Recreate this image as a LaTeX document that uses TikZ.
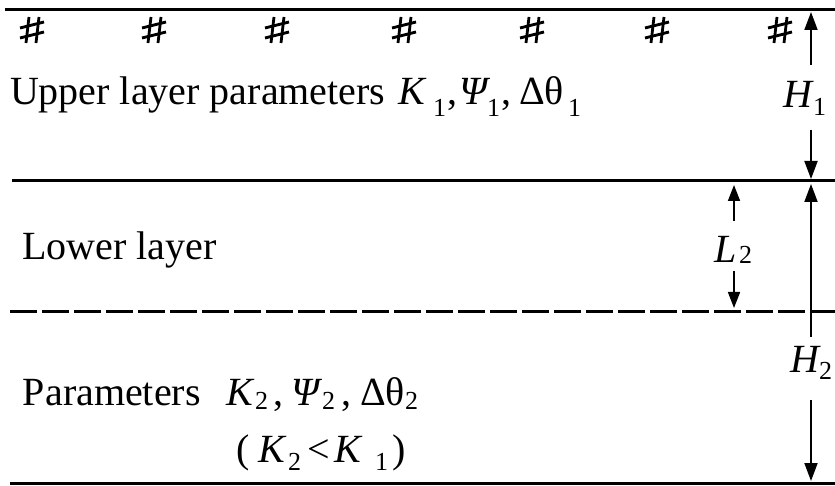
\documentclass[tikz,border=0pt]{standalone}
\usepackage{fontspec}
\setmainfont{Liberation Serif}
\usetikzlibrary{arrows.meta}
\begin{document}
\begin{tikzpicture}[x=1pt,y=-1pt,
  every node/.style={inner sep=0pt,outer sep=0pt},
  txt/.style={anchor=base west,font=\fontsize{40}{42}\selectfont},
  itx/.style={anchor=base west,font=\fontsize{40}{42}\selectfont\itshape},
  subs/.style={anchor=base west,font=\fontsize{26}{27}\selectfont},
  boundary/.style={line width=3pt},
  dimarrow/.style={line width=1.9pt,-{Triangle[length=18pt,width=13pt]}},
  smallarrow/.style={line width=1.7pt,-{Triangle[length=16pt,width=12pt]}},
  hashstroke/.style={line width=2.8pt},
  hashpic/.pic={
    \draw[hashstroke] (-6,13) -- (-3,-13);
    \draw[hashstroke] (4,13) -- (7,-13);
    \draw[hashstroke] (-12,-2) -- (12,-8);
    \draw[hashstroke] (-12,8) -- (12,2);
  }
]
\useasboundingbox (0,0) rectangle (835,486);
% layer boundaries
\coordinate (t0) at (5,10);   \coordinate (t1) at (835,10);
\coordinate (m0) at (12,181); \coordinate (m1) at (835,181);
\coordinate (d0) at (10,311); \coordinate (d1) at (835,311);
\coordinate (b0) at (10,483); \coordinate (b1) at (835,483);
\draw[boundary] (t0) -- (t1);
\draw[boundary] (m0) -- (m1);
\draw[boundary,dash pattern=on 27pt off 5pt] (d0) -- (d1);
\draw[boundary] (b0) -- (b1);
% surface marks
\foreach \x [count=\i] in {32,154,277,404,532,657,780}
  \pic (hm\i) at (\x,30) {hashpic};
% upper layer text
\node[txt] (upper) at (10,105) {Upper layer parameters};
\node[itx] (k1) at (398,105) {K};
\node[subs] (k1s) at (433,117) {1};
\node[txt] (c1) at (447,105) {,};
\node[itx] (p1) at (459,105) {Ψ};
\node[subs] (p1s) at (487,117) {1};
\node[txt] (c2) at (501,105) {,};
\node[txt] (t1) at (519,105) {Δθ};
\node[subs] (t1s) at (568,117) {1};
% lower layer text
\node[txt] (lower) at (22,260) {Lower layer};
\node[txt] (params) at (23,405) {Parameters};
\node[itx] (k2) at (226,405) {K};
\node[subs] (k2s) at (255,409) {2};
\node[txt] (c3) at (273,405) {,};
\node[itx] (p2) at (291,405) {Ψ};
\node[subs] (p2s) at (322,409) {2};
\node[txt] (c4) at (341,405) {,};
\node[txt] (t2) at (360,405) {Δθ};
\node[subs] (t2s) at (405,409) {2};
% condition
\node[txt] (po) at (236,462) {(};
\node[itx] (k3) at (258,462) {K};
\node[subs] (k3s) at (288,470) {2};
\node[txt] (lt) at (307,462) {<};
\node[itx] (k4) at (334,462) {K};
\node[subs] (k4s) at (375,470) {1};
\node[txt] (pc) at (392,462) {)};
% dimension labels
\node[itx] (H1) at (783,108) {H};
\node[subs] (H1s) at (813,116) {1};
\node[itx] (L2) at (714,263) {L};
\node[subs] (L2s) at (739,264) {2};
\node[itx] (H2) at (790,372) {H};
\node[subs] (H2s) at (819,379) {2};
% dimension arrows
\coordinate (h1a) at (811,65);  \coordinate (h1b) at (811,12);
\coordinate (h1c) at (811,130); \coordinate (h1d) at (811,179);
\draw[dimarrow] (h1a) -- (h1b);
\draw[dimarrow] (h1c) -- (h1d);
\coordinate (l2a) at (734,221); \coordinate (l2b) at (734,185);
\coordinate (l2c) at (734,271); \coordinate (l2d) at (734,308);
\draw[smallarrow] (l2a) -- (l2b);
\draw[smallarrow] (l2c) -- (l2d);
\coordinate (h2a) at (811,337); \coordinate (h2b) at (811,184);
\coordinate (h2c) at (811,400); \coordinate (h2d) at (811,481);
\draw[dimarrow] (h2a) -- (h2b);
\draw[dimarrow] (h2c) -- (h2d);
\end{tikzpicture}
\end{document}
